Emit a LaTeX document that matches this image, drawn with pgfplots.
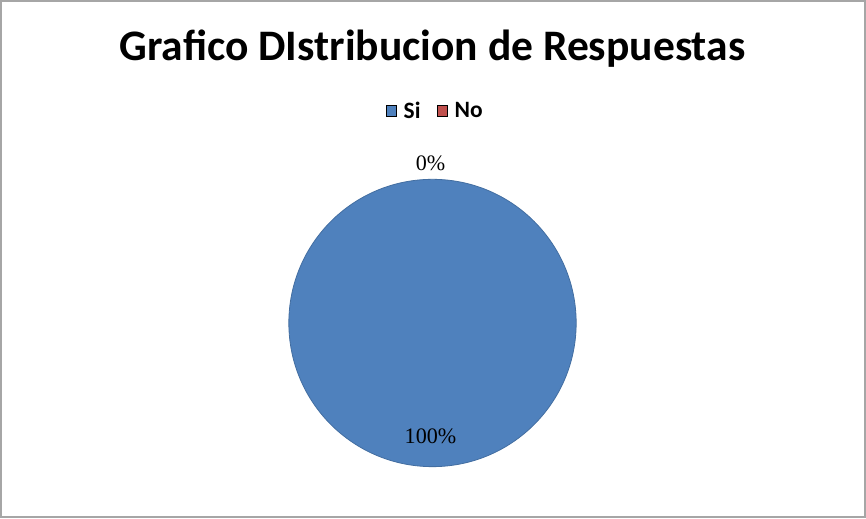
\documentclass[border=0pt]{standalone}
\usepackage{pgfplots}
\pgfplotsset{compat=1.18}
\usepackage{fontspec}
\setmainfont{Carlito}
\newfontfamily\labelfont{Liberation Serif}
\definecolor{siblue}{HTML}{4F81BD}
\definecolor{nored}{HTML}{C0504D}
\begin{document}
\begin{tikzpicture}[x=0.75pt,y=0.75pt]
\begin{axis}[
  set layers,
  scale only axis, width=649.5pt, height=390pt,
  xmin=0, xmax=866, ymin=0, ymax=520,
  hide axis, clip=false,
  legend style={at={(axis cs:435,408)}, anchor=center, draw=none, fill=none,
    legend columns=2, font=\fontsize{17.5}{19}\selectfont\bfseries,
    /tikz/every odd column/.append style={column sep=3pt},
    /tikz/every even column/.append style={column sep=10pt}},
  legend image code/.code={\fill[#1] (0pt,-4pt) rectangle (8pt,4pt);},
]
\draw[draw=black!35, line width=1.5pt] (axis cs:2.5,3.5) rectangle (axis cs:862.5,517.5);
\node[font=\fontsize{32.5}{38}\selectfont\bfseries] at (axis cs:432,470) {Grafico DIstribucion de Respuestas};
% pie: Si = 100 %, No = 0 %
\addplot[forget plot, only marks, mark=*, mark size=107.25pt, mark options={fill=siblue, draw=siblue!85!black, line width=0.6pt}] coordinates {(432,197)};
\addlegendimage{fill=siblue}
\addlegendentry{Si}
\addlegendimage{fill=nored}
\addlegendentry{No}
\begin{pgfonlayer}{axis foreground}
\node[font=\labelfont\fontsize{16.5}{18}\selectfont] at (axis cs:430,356) {0\%};
\node[font=\labelfont\fontsize{16.5}{18}\selectfont, text=black] at (axis cs:430,84) {100\%};
\end{pgfonlayer}
\end{axis}
\end{tikzpicture}
\end{document}
